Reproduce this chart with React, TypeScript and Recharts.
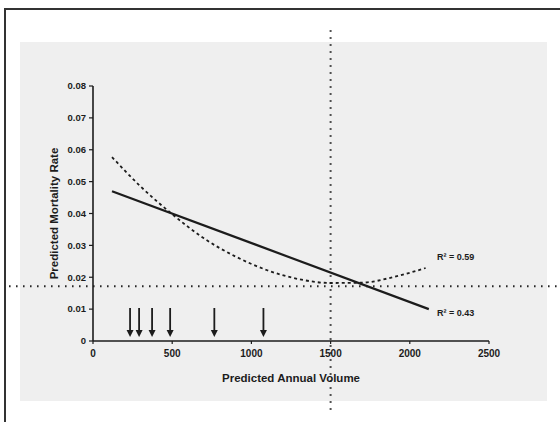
import {
  ComposedChart,
  Line,
  Scatter,
  XAxis,
  YAxis,
  ReferenceLine,
  ReferenceDot,
  Label,
} from "recharts";

// values
const volumeTicks = [0, 500, 1000, 1500, 2000, 2500];
const rateTicks = [0, 0.01, 0.02, 0.03, 0.04, 0.05, 0.06, 0.07, 0.08];

const linearVolumes = [120, 2120];
const linearRates = [0.047, 0.01];

const quadVolumes = [120, 300, 500, 700, 900, 1100, 1300, 1500, 1700, 1900, 2100];
const quadRates = [0.0577, 0.0485, 0.0398, 0.0322, 0.0265, 0.0222, 0.0194, 0.0182, 0.0183, 0.0201, 0.0229];

const arrowVolumes = [234, 291, 373, 487, 766, 1076];

const crossVolume = 1500;
const crossRate = 0.0172;

const linearData = linearVolumes.map((x, i) => ({ x, y: linearRates[i] }));
const quadData = quadVolumes.map((x, i) => ({ x, y: quadRates[i] }));
const arrowData = arrowVolumes.map((x) => ({ x, y: 0 }));

const INK = "#1c1c1c";
const FONT = "'Liberation Sans', Arial, sans-serif";

function Arrow(props: any) {
  const { cx, cy } = props;
  if (cx == null || cy == null) return null;
  const tip = cy - 4;
  return (
    <g>
      <line x1={cx} y1={tip - 29} x2={cx} y2={tip - 6} stroke={INK} strokeWidth={1.8} />
      <path d={`M${cx - 3.5},${tip - 7} L${cx + 3.5},${tip - 7} L${cx},${tip} Z`} fill={INK} />
    </g>
  );
}

export default function App() {
  return (
    <div
      style={{
        position: "absolute",
        left: 0,
        top: 0,
        width: 560,
        height: 422,
        background: "#fff",
        overflow: "hidden",
      }}
    >
      {/* slide frame */}
      <div
        style={{
          position: "absolute",
          left: 4,
          top: 8,
          width: 600,
          height: 500,
          borderTop: "2px solid #333",
          borderLeft: "2px solid #333",
        }}
      />
      {/* grey slide background */}
      <div
        style={{
          position: "absolute",
          left: 20,
          top: 42,
          width: 527,
          height: 359,
          background: "#efefef",
        }}
      />
      <div style={{ position: "absolute", left: 0, top: 0 }}>
        <ComposedChart
          width={560}
          height={422}
          margin={{ top: 86, right: 71, bottom: 51, left: 53 }}
        >
          <XAxis
            type="number"
            dataKey="x"
            domain={[0, 2500]}
            ticks={volumeTicks}
            allowDataOverflow
            height={30}
            tick={{ fontSize: 10, fontWeight: "bold", fill: INK, fontFamily: FONT }}
            tickSize={3}
            tickMargin={6}
            axisLine={{ stroke: INK, strokeWidth: 1.6 }}
            tickLine={{ stroke: INK, strokeWidth: 1.2 }}
          >
            <Label
              content={(p: any) => {
                const vb = p.viewBox;
                return (
                  <text
                    x={vb.x + vb.width / 2}
                    y={vb.y + 41}
                    textAnchor="middle"
                    fontSize={11.5}
                    fontWeight="bold"
                    fill={INK}
                    fontFamily={FONT}
                  >
                    Predicted Annual Volume
                  </text>
                );
              }}
            />
          </XAxis>
          <YAxis
            type="number"
            dataKey="y"
            domain={[0, 0.08]}
            ticks={rateTicks}
            allowDataOverflow
            width={40}
            tickFormatter={(v: number) => (v === 0 ? "0" : v.toFixed(2))}
            tick={{ fontSize: 9.5, fontWeight: "bold", fill: INK, fontFamily: FONT }}
            tickSize={4}
            tickMargin={3}
            axisLine={{ stroke: INK, strokeWidth: 1.6 }}
            tickLine={{ stroke: INK, strokeWidth: 1.2 }}
          >
            <Label
              content={(p: any) => {
                const vb = p.viewBox;
                const cx = vb.x + 1;
                const cy = vb.y + vb.height / 2;
                return (
                  <text
                    x={cx}
                    y={cy}
                    textAnchor="middle"
                    dominantBaseline="central"
                    transform={`rotate(-90, ${cx}, ${cy})`}
                    fontSize={11.5}
                    fontWeight="bold"
                    fill={INK}
                    fontFamily={FONT}
                  >
                    Predicted Mortality Rate
                  </text>
                );
              }}
            />
          </YAxis>

          <ReferenceLine
            segment={[
              { x: crossVolume, y: 0.0975 },
              { x: crossVolume, y: -0.0225 },
            ]}
            ifOverflow="visible"
            stroke={INK}
            strokeWidth={2}
            strokeDasharray="1.5 5.5"
          />
          <ReferenceLine
            segment={[
              { x: -530, y: crossRate },
              { x: 2960, y: crossRate },
            ]}
            ifOverflow="visible"
            stroke={INK}
            strokeWidth={2}
            strokeDasharray="1.5 5.5"
          />

          <Line
            data={quadData}
            dataKey="y"
            type="monotone"
            stroke={INK}
            strokeWidth={1.8}
            strokeDasharray="3 3"
            dot={false}
            isAnimationActive={false}
          />
          <Line
            data={linearData}
            dataKey="y"
            type="linear"
            stroke={INK}
            strokeWidth={2.2}
            dot={false}
            isAnimationActive={false}
          />
          <Scatter
            data={arrowData}
            dataKey="y"
            shape={Arrow}
            isAnimationActive={false}
          />

          <ReferenceDot
            x={2140}
            y={0.0263}
            r={0}
            ifOverflow="visible"
            label={{
              value: "R² = 0.59",
              position: "right",
              fontSize: 9,
              fontWeight: "bold",
              fill: INK,
              fontFamily: FONT,
            }}
          />
          <ReferenceDot
            x={2140}
            y={0.0088}
            r={0}
            ifOverflow="visible"
            label={{
              value: "R² = 0.43",
              position: "right",
              fontSize: 9,
              fontWeight: "bold",
              fill: INK,
              fontFamily: FONT,
            }}
          />
        </ComposedChart>
      </div>
    </div>
  );
}
